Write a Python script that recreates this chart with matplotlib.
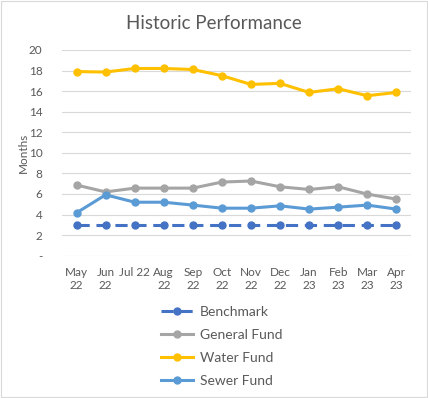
import matplotlib
matplotlib.use("Agg")
import matplotlib.pyplot as plt
from matplotlib.patches import Rectangle

months = ["May\n22", "Jun\n22", "Jul 22", "Aug\n22", "Sep\n22", "Oct\n22",
          "Nov\n22", "Dec\n22", "Jan\n23", "Feb\n23", "Mar\n23", "Apr\n23"]
benchmark = [3, 3, 3, 3, 3, 3, 3, 3, 3, 3, 3, 3]
general_fund = [6.87, 6.2, 6.57, 6.57, 6.57, 7.16, 7.26, 6.7, 6.44, 6.7, 5.99, 5.5]
water_fund = [17.9, 17.85, 18.2, 18.2, 18.1, 17.5, 16.65, 16.75, 15.87, 16.23, 15.55, 15.87]
sewer_fund = [4.17, 5.92, 5.2, 5.2, 4.92, 4.62, 4.62, 4.85, 4.53, 4.72, 4.92, 4.53]
yticks = [0, 2, 4, 6, 8, 10, 12, 14, 16, 18, 20]
ytick_labels = ["-", "2", "4", "6", "8", "10", "12", "14", "16", "18", "20"]

plt.rcParams['font.family'] = ['Lato', 'DejaVu Sans']
text_color = "#595959"

fig = plt.figure(figsize=(4.28, 3.98), dpi=100)
fig.patches.append(Rectangle((0.002, 0.002), 0.996, 0.996, transform=fig.transFigure,
                             fill=False, edgecolor="#D9D9D9", linewidth=0.8))
ax = fig.add_axes([0.1449, 0.3575, 0.815, 0.517])

x = list(range(len(months)))
lw = 2.2
ms = 5
ax.plot(x, benchmark, color="#4472C4", linewidth=lw, linestyle=(0, (4, 2.2)),
        marker="o", markersize=ms, label="Benchmark", zorder=3)
ax.plot(x, general_fund, color="#A5A5A5", linewidth=lw, marker="o", markersize=ms,
        label="General Fund", zorder=3)
ax.plot(x, water_fund, color="#FFC000", linewidth=lw, marker="o", markersize=ms,
        label="Water Fund", zorder=3)
ax.plot(x, sewer_fund, color="#5B9BD5", linewidth=lw, marker="o", markersize=ms,
        label="Sewer Fund", zorder=3)

ax.set_xlim(-0.5, len(months) - 0.5)
ax.set_ylim(0, 20)
ax.set_yticks(yticks)
ax.set_yticklabels(ytick_labels)
ax.set_xticks(x)
ax.set_xticklabels(months, va="top", linespacing=1.2)
ax.tick_params(axis="both", length=0, colors=text_color, labelsize=8.5)
ax.tick_params(axis="x", pad=8)
ax.tick_params(axis="y", pad=14)
for lab in ax.get_yticklabels():
    lab.set_horizontalalignment("right")
ax.grid(axis="y", color="#D9D9D9", linewidth=0.8)
ax.set_axisbelow(True)
for s in ax.spines.values():
    s.set_visible(False)
ax.set_ylabel("Months", color=text_color, fontsize=8.5, labelpad=0)

fig.suptitle("Historic Performance", x=0.5, y=0.962, fontsize=13.5, color=text_color)

fig.legend(loc="upper left", bbox_to_anchor=(0.376, 0.232), frameon=False,
           fontsize=10, labelcolor=text_color, handlelength=2.3, handletextpad=0.5,
           labelspacing=0.8, borderpad=0, borderaxespad=0)

fig.savefig("out.png", dpi=100)
